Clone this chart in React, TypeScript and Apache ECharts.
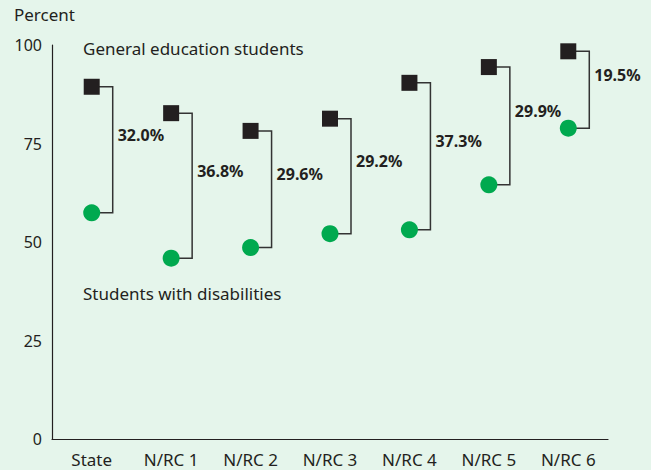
import React, { useEffect, useRef } from "react";
import * as echarts from "echarts";

const categories = ["State", "N/RC 1", "N/RC 2", "N/RC 3", "N/RC 4", "N/RC 5", "N/RC 6"];
const generalEd = [89.4, 82.7, 78.2, 81.3, 90.4, 94.4, 98.4];
const disabilities = [57.4, 45.9, 48.6, 52.1, 53.1, 64.5, 78.9];
const gapLabels = ["32.0%", "36.8%", "29.6%", "29.2%", "37.3%", "29.9%", "19.5%"];
const yTicks = [0, 25, 50, 75, 100];

const FONT = "'Noto Sans', sans-serif";
const DARK = "#231f20";
const GREEN = "#00a94f";
const BG = "#e5f5eb";

export default function App() {
  const ref = useRef<HTMLDivElement>(null);
  useEffect(() => {
    if (!ref.current) return;
    const chart = echarts.init(ref.current, undefined, { renderer: "svg" });
    const bracketData = categories.map((_, i) => [i, generalEd[i], disabilities[i]]);
    chart.setOption({
      animation: false,
      backgroundColor: BG,
      textStyle: { fontFamily: FONT },
      grid: { left: 52, right: 43, top: 45, bottom: 31 },
      xAxis: {
        type: "category",
        data: categories,
        boundaryGap: true,
        axisLine: { show: true, lineStyle: { color: DARK, width: 1.2 } },
        axisTick: { show: false },
        axisLabel: { color: DARK, fontSize: 17, fontFamily: FONT, margin: 12 },
        splitLine: { show: false },
      },
      yAxis: {
        type: "value",
        min: yTicks[0],
        max: yTicks[yTicks.length - 1],
        interval: 25,
        axisLine: { show: true, lineStyle: { color: DARK, width: 1.2 } },
        axisTick: { show: false },
        axisLabel: { color: DARK, fontSize: 16, fontFamily: FONT, margin: 10 },
        splitLine: { show: false },
      },
      graphic: [
        {
          type: "text",
          left: 14,
          top: 6,
          style: { text: "Percent", fontSize: 17, fontFamily: FONT, fill: DARK },
        },
        {
          type: "text",
          left: 83,
          top: 40,
          style: { text: "General education students", fontSize: 17, fontFamily: FONT, fill: DARK },
        },
        {
          type: "text",
          left: 83,
          top: 285,
          style: { text: "Students with disabilities", fontSize: 17, fontFamily: FONT, fill: DARK },
        },
      ],
      series: [
        {
          type: "custom",
          data: bracketData,
          renderItem: (params: any, api: any) => {
            const top = api.coord([api.value(0), api.value(1)]);
            const bot = api.coord([api.value(0), api.value(2)]);
            const bx = top[0] + 21;
            const mid = (top[1] + bot[1]) / 2 - 15;
            return {
              type: "group",
              children: [
                {
                  type: "polyline",
                  shape: {
                    points: [
                      [top[0] + 6, top[1]],
                      [bx, top[1]],
                      [bx, bot[1]],
                      [bot[0] + 6, bot[1]],
                    ],
                  },
                  style: { stroke: "#333333", lineWidth: 1.5, fill: "none" },
                },
                {
                  type: "text",
                  x: bx + 5,
                  y: mid,
                  style: {
                    text: gapLabels[params.dataIndex],
                    fontSize: 16,
                    fontWeight: "bold",
                    fontFamily: FONT,
                    fill: DARK,
                    textAlign: "left",
                    textVerticalAlign: "middle",
                  },
                },
              ],
            };
          },
          z: 1,
        },
        {
          type: "scatter",
          data: generalEd,
          symbol: "rect",
          symbolSize: 16,
          itemStyle: { color: DARK, opacity: 1 },
          z: 3,
        },
        {
          type: "scatter",
          data: disabilities,
          symbol: "circle",
          symbolSize: 17,
          itemStyle: { color: GREEN, opacity: 1 },
          z: 3,
        },
      ],
    });
    return () => chart.dispose();
  }, []);
  return <div ref={ref} style={{ width: 651, height: 470, position: "absolute", left: 0, top: 0 }} />;
}
